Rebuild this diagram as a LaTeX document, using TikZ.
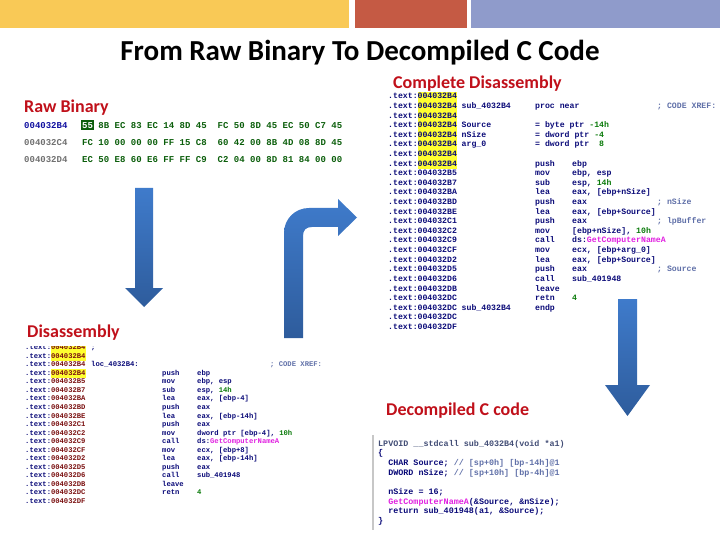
\documentclass[tikz,border=0pt]{standalone}
\usepackage{fontspec}
\setmainfont{Carlito}
\newfontfamily\codefont{Liberation Mono}

\definecolor{baryellow}{HTML}{F9C956}
\definecolor{barred}{HTML}{C55A44}
\definecolor{barblue}{HTML}{8F9BCB}
\definecolor{headred}{HTML}{C0101A}
\definecolor{arrtop}{HTML}{3F7BCB}
\definecolor{arrbot}{HTML}{2E5C9C}
\definecolor{hlyellow}{HTML}{FFFF30}
\definecolor{idanavy}{HTML}{0A0A78}
\definecolor{idaaddr}{HTML}{7A1010}
\definecolor{idanum}{HTML}{0A7A0A}
\definecolor{idacall}{HTML}{E020E0}
\definecolor{idacmt}{HTML}{6070A8}
\definecolor{hexgreen}{HTML}{0B5E0B}
\definecolor{hexblue}{HTML}{1010A0}
\definecolor{hexgrey}{HTML}{707070}

\newcommand\hl[1]{{\setlength\fboxsep{0pt}\colorbox{hlyellow}{\strut#1}}}
\newcommand\nm[1]{{\color{idanum}#1}}
\newcommand\fn[1]{{\color{idacall}#1}}
\newcommand\cm[1]{{\color{idacmt}#1}}

% one row of the complete listing
\newcommand\fullrow[6]{%
  \node[fullcode] (full#1) at (388,{96+(#1-1)*9.6+3})
    {\makebox[29.4pt][l]{.text:}\makebox[44.1pt][l]{#2}\makebox[73.5pt][l]{#3}%
     \makebox[37pt][l]{#4}\makebox[85pt][l]{#5}\cm{#6}};}
% one row of the plain listing
\newcommand\disrow[6]{%
  \node[discode] (dis#1) at (25,{347+(#1-1)*8.55+2.6})
    {\makebox[25.8pt][l]{.text:}\makebox[40.2pt][l]{\color{idaaddr}#2}\makebox[71pt][l]{#3}%
     \makebox[35pt][l]{#4}\makebox[73pt][l]{#5}\cm{#6}};}

\begin{document}
\begin{tikzpicture}[x=1pt,y=-1pt]
    \tikzstyle{heading}=[font=\bfseries\fontsize{18}{20}\selectfont, text=headred, anchor=base west, inner sep=0]
    \tikzstyle{fullcode}=[font=\codefont\bfseries\fontsize{8.2}{9.6}\selectfont, text=idanavy, anchor=base west, inner sep=0]
    \tikzstyle{discode}=[font=\codefont\bfseries\fontsize{7.2}{8.55}\selectfont, text=idanavy, anchor=base west, inner sep=0]
    \tikzstyle{ccode}=[font=\codefont\bfseries\fontsize{8.4}{9.7}\selectfont, text=idanavy, anchor=base west, inner sep=0]
    \tikzstyle{hexbyte}=[font=\codefont\bfseries\fontsize{9}{11}\selectfont, text=hexgreen, anchor=base west, inner sep=0]
    \tikzstyle{arrowfill}=[top color=arrtop, bottom color=arrbot, draw=none]

    \useasboundingbox (0,0) rectangle (720,540);

    % top bars
    \fill[baryellow] (0,0) rectangle (349,28);
    \fill[barred] (355,0) rectangle (467,28);
    \fill[barblue] (471,0) rectangle (720,28);

    \node[font=\bfseries\fontsize{29}{32}\selectfont, anchor=base, inner sep=0] (title) at (360,61) {From Raw Binary To Decompiled C Code};

    \node[heading] (rawlbl) at (24,113) {Raw Binary};
    \node[heading] (fulllbl) at (393,88.5) {Complete Disassembly};
    \node[heading] (dislbl) at (27,337) {Disassembly};
    \node[heading] (declbl) at (386,415) {Decompiled C code};

    % hex view
    \node[hexbyte, text=hexblue] (addr1) at (24,128.2) {004032B4};
    \node[hexbyte, text=hexgrey] (addr2) at (24,145.2) {004032C4};
    \node[hexbyte, text=hexgrey] (addr3) at (24,162.2) {004032D4};
    \foreach \bytes [count=\r] in {{55,8B,EC,83,EC,14,8D,45,FC,50,8D,45,EC,50,C7,45},
                                   {FC,10,00,00,00,FF,15,C8,60,42,00,8B,4D,08,8D,45},
                                   {EC,50,E8,60,E6,FF,FF,C9,C2,04,00,8D,81,84,00,00}}
        \foreach \b [count=\i from 0] in \bytes
            \node[hexbyte] (b\r-\i) at ({82+\i*16.25+(\i>7)*5.42},{108+\r*17+3.2}) {\b};
    \node[hexbyte, fill=hexgreen, text=white, inner xsep=1.2pt, inner ysep=2pt, anchor=center] (sel) at (b1-0.center) {55};

    % complete disassembly
    \fullrow{1}{\hl{004032B4}}{}{}{}{}
    \fullrow{2}{\hl{004032B4}}{sub\_4032B4}{proc near}{}{; CODE XREF:}
    \fullrow{3}{\hl{004032B4}}{}{}{}{}
    \fullrow{4}{\hl{004032B4}}{Source}{= byte ptr \nm{-14h}}{}{}
    \fullrow{5}{\hl{004032B4}}{nSize}{= dword ptr \nm{-4}}{}{}
    \fullrow{6}{\hl{004032B4}}{arg\_0}{= dword ptr\ \ \nm{8}}{}{}
    \fullrow{7}{\hl{004032B4}}{}{}{}{}
    \fullrow{8}{\hl{004032B4}}{}{push}{ebp}{}
    \fullrow{9}{004032B5}{}{mov}{ebp, esp}{}
    \fullrow{10}{004032B7}{}{sub}{esp, \nm{14h}}{}
    \fullrow{11}{004032BA}{}{lea}{eax, [ebp+nSize]}{}
    \fullrow{12}{004032BD}{}{push}{eax}{; nSize}
    \fullrow{13}{004032BE}{}{lea}{eax, [ebp+Source]}{}
    \fullrow{14}{004032C1}{}{push}{eax}{; lpBuffer}
    \fullrow{15}{004032C2}{}{mov}{[ebp+nSize], \nm{10h}}{}
    \fullrow{16}{004032C9}{}{call}{ds:\fn{GetComputerNameA}}{}
    \fullrow{17}{004032CF}{}{mov}{ecx, [ebp+arg\_0]}{}
    \fullrow{18}{004032D2}{}{lea}{eax, [ebp+Source]}{}
    \fullrow{19}{004032D5}{}{push}{eax}{; Source}
    \fullrow{20}{004032D6}{}{call}{sub\_401948}{}
    \fullrow{21}{004032DB}{}{leave}{}{}
    \fullrow{22}{004032DC}{}{retn}{\nm{4}}{}
    \fullrow{23}{004032DC}{sub\_4032B4}{endp}{}{}
    \fullrow{24}{004032DC}{}{}{}{}
    \fullrow{25}{004032DF}{}{}{}{}

    % disassembly
    \begin{scope}
        \clip (20,346.5) rectangle (360,503);
        \disrow{1}{\hl{004032B4}}{;}{}{}{}
        \disrow{2}{\hl{004032B4}}{}{}{}{}
        \disrow{3}{004032B4}{loc\_4032B4:}{}{}{; CODE XREF:}
        \disrow{4}{\hl{004032B4}}{}{push}{ebp}{}
        \disrow{5}{004032B5}{}{mov}{ebp, esp}{}
        \disrow{6}{004032B7}{}{sub}{esp, \nm{14h}}{}
        \disrow{7}{004032BA}{}{lea}{eax, [ebp-4]}{}
        \disrow{8}{004032BD}{}{push}{eax}{}
        \disrow{9}{004032BE}{}{lea}{eax, [ebp-14h]}{}
        \disrow{10}{004032C1}{}{push}{eax}{}
        \disrow{11}{004032C2}{}{mov}{dword ptr [ebp-4], \nm{10h}}{}
        \disrow{12}{004032C9}{}{call}{ds:\fn{GetComputerNameA}}{}
        \disrow{13}{004032CF}{}{mov}{ecx, [ebp+8]}{}
        \disrow{14}{004032D2}{}{lea}{eax, [ebp-14h]}{}
        \disrow{15}{004032D5}{}{push}{eax}{}
        \disrow{16}{004032D6}{}{call}{sub\_401948}{}
        \disrow{17}{004032DB}{}{leave}{}{}
        \disrow{18}{004032DC}{}{retn}{\nm{4}}{}
        \disrow{19}{004032DF}{}{}{}{}
    \end{scope}

    % decompiled code
    \draw[line width=1.5pt, black!22] (373,435) -- (373,530);
    \node[ccode, text=idacmt!70!black] (dec1) at (378,446) {LPVOID \_\_stdcall sub\_4032B4(void *a1)};
    \node[ccode] (dec2) at (378,455.7) {\{};
    \node[ccode] (dec3) at (378,465.4) {\phantom{xx}CHAR Source; \cm{// [sp+0h] [bp-14h]@1}};
    \node[ccode] (dec4) at (378,475.1) {\phantom{xx}DWORD nSize; \cm{// [sp+10h] [bp-4h]@1}};
    \node[ccode] (dec5) at (378,494.5) {\phantom{xx}nSize = 16;};
    \node[ccode] (dec6) at (378,504.2) {\phantom{xx}\fn{GetComputerNameA}(\&Source, \&nSize);};
    \node[ccode] (dec7) at (378,513.9) {\phantom{xx}return sub\_401948(a1, \&Source);};
    \node[ccode] (dec8) at (378,523.6) {\}};

    % block arrows
    \path[arrowfill] (135,188) -- (153,188) -- (153,288) -- (163,288) -- (144,307) -- (125,288) -- (135,288) -- cycle;
    \path[arrowfill] (284,338) -- (284,233) .. controls (284,219) and (295,208) .. (309,208) -- (338,208) -- (338,199)
        -- (357,217.5) -- (338,236) -- (338,227) -- (312,227) .. controls (306,227) and (303,230) .. (303,236) -- (303,338) -- cycle;
    \path[arrowfill] (618,299) -- (637,299) -- (637,385) -- (650,385) -- (627.5,416) -- (605,385) -- (618,385) -- cycle;
\end{tikzpicture}
\end{document}
